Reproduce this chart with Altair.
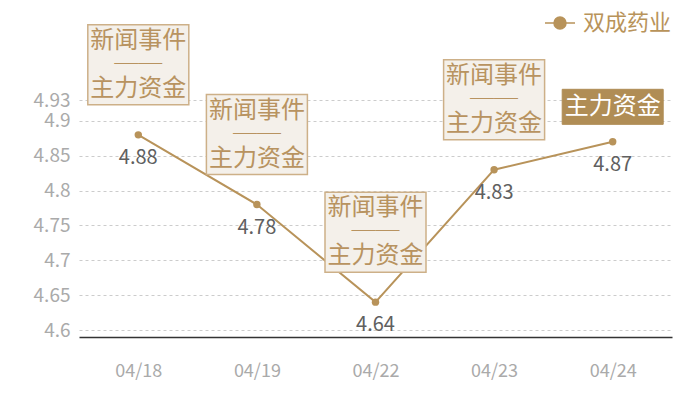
import altair as alt
import pandas as pd

dates = ["04/18", "04/19", "04/22", "04/23", "04/24"]
prices = [4.88, 4.78, 4.64, 4.83, 4.87]
annot_kind = ["event", "event", "event", "event", "fund"]
annot_text = ["新闻事件\n──\n主力资金"] * 4 + ["主力资金"]
series = ["双成药业"] * 5
y_ticks = [4.6, 4.65, 4.7, 4.75, 4.8, 4.85, 4.9, 4.93]

df = pd.DataFrame({
    "date": dates,
    "price": prices,
    "kind": annot_kind,
    "annot": annot_text,
    "series": series,
})

FONT = "Noto Sans CJK SC"
GOLD = "#b8935a"

x = alt.X("date:O", scale=alt.Scale(type="point", padding=0.5),
          axis=alt.Axis(title=None, labelAngle=0, labelColor="#aaaaaa", labelFontSize=18,
                        labelFont=FONT, labelPadding=25, ticks=False, domainColor="#333333",
                        domainWidth=1.5, grid=False))
y = alt.Y("price:Q", scale=alt.Scale(domain=[4.59, 4.93], nice=False, zero=False),
          axis=alt.Axis(title=None, values=y_ticks, labelExpr="format(datum.value, '~g')",
                        labelColor="#aaaaaa", labelFontSize=19, labelFont=FONT, labelPadding=9,
                        ticks=False, domain=False, grid=True, gridColor="#cccccc",
                        gridDash=[3, 3], gridWidth=1))

base = alt.Chart(df)

legend_path = ("M-1,0H-0.4 M0.4,0H1 M-0.4,0A0.4,0.4 0 1,1 0.4,0"
               "A0.4,0.4 0 1,1 -0.4,0Z")

line = base.mark_line(strokeWidth=2).encode(
    x=x, y=y,
    color=alt.Color("series:N", scale=alt.Scale(range=[GOLD]),
                    legend=alt.Legend(title=None, orient="none", legendX=465, legendY=-93,
                                      symbolType=legend_path, symbolSize=900,
                                      symbolStrokeWidth=1.5, labelFontSize=22,
                                      labelColor=GOLD, labelFont=FONT, labelOffset=7,
                                      symbolFillColor=GOLD, symbolStrokeColor=GOLD)),
)

points = base.mark_circle(size=55, color=GOLD, opacity=1).encode(x=x, y=y)

values = base.mark_text(dy=23, fontSize=20, color="#606060", font=FONT).encode(
    x=x, y=y, text=alt.Text("price:Q", format="~g"))

box_event = base.transform_filter(alt.datum.kind == "event").mark_point(
    shape="M-1,-0.792H1V0.792H-1Z", size=10201, filled=True, fill="#f4f0ea",
    stroke="#cdb088", strokeWidth=1.5, opacity=1, yOffset=-70,
).encode(x=x, y=y)

text_event = base.transform_filter(alt.datum.kind == "event").mark_text(
    lineBreak="\n", lineHeight=24, fontSize=24, color="#b89360", font=FONT,
    baseline="middle", yOffset=-94,
).encode(x=x, y=y, text="annot:N")

box_fund = base.transform_filter(alt.datum.kind == "fund").mark_point(
    shape="M-1,-0.347H1V0.347H-1Z", size=10201, filled=True, fill="#b08d55",
    stroke="#b08d55", strokeWidth=1, opacity=1, yOffset=-35,
).encode(x=x, y=y)

text_fund = base.transform_filter(alt.datum.kind == "fund").mark_text(
    fontSize=24, color="#ffffff", font=FONT, baseline="middle", yOffset=-35,
).encode(x=x, y=y, text="annot:N")

chart = alt.layer(line, points, values, box_event, text_event, box_fund, text_fund).properties(
    width=593, height=237,
    autosize=alt.AutoSizeParams(type="none"),
    padding={"left": 71, "top": 92, "right": 20, "bottom": 55},
).configure_view(stroke=None)

chart.save("out.html", embed_options={"renderer": "svg", "actions": False})
